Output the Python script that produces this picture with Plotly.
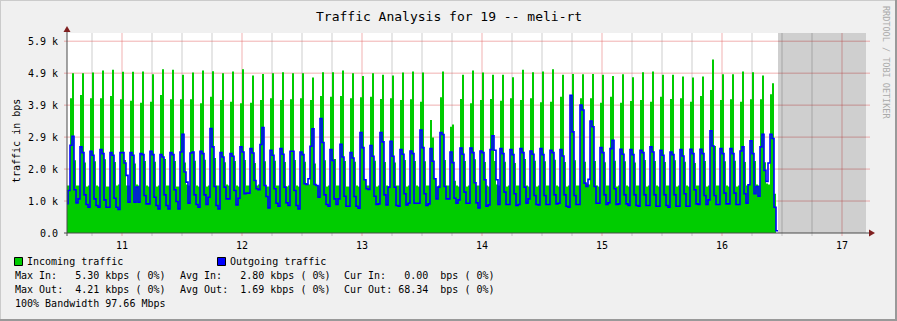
import plotly.graph_objects as go

# ---------------- data (bps), 24-minute samples ----------------
START_DAY = 10.0 + 12.8 / 24.0      # first sample starts day 10, 12:48
STEP_DAYS = 24.0 / 1440.0           # 24 minutes

in_head = [1453, 1453]
in_rise = [4114, 4217, 4114, 4114, 4186, 4083, 4042, 3981, 4012, 4217,
           4083, 4083, 4083, 3961, 4165, 4063, 4012, 3961, 3981, 4063,
           4114, 4063, 4083, 4114, 4063, 4186, 4165, 4186, 4114, 4145,
           4165, 4094, 4114, 4063, 4083, 4012, 3449, 4145, 3244, 4094,
           3961, 4063, 4094, 4042, 4114, 4063, 4114, 3991, 4012, 4165,
           4186, 4114, 4114, 3981, 4165, 3981, 4032, 4063, 4012, 4165,
           4094, 4114, 4012, 4186, 4370, 4063, 4083, 4012, 4083, 4083,
           4237]
in_peak = [4882, 4882, 4902, 4964, 4984, 4923, 4923, 4933, 4851, 5005,
           4984, 4831, 4902, 4964, 4943, 4882, 4933, 5005, 4810, 4861,
           4882, 4913, 4882, 4882, 4749, 4913, 4913, 4964, 4882, 4800,
           4882, 4831, 4810, 4902, 4933, 4902, 2916, 4933, 3316, 4831,
           4964, 4902, 4831, 4831, 4759, 4984, 4913, 4933, 5005, 4831,
           4861, 4851, 4861, 4831, 4800, 4851, 4759, 4913, 4933, 4831,
           4831, 4780, 4749, 4780, 5300, 4851, 4851, 4933, 4913, 4810,
           4575]
in_after = [2220, 2150, 2190, 2250, 2170, 2230, 2120, 2200, 2180, 2260,
            2200, 2150, 2210, 2240, 2290, 2160, 2200, 2230, 2140, 2190,
            2210, 2170, 2230, 2180, 2120, 2220, 2260, 2200, 2180, 1620,
            2210, 2170, 2150, 2230, 2200, 2190, 1660, 2230, 1600, 2200,
            2250, 2170, 2200, 2180, 2140, 2260, 2210, 2190, 2240, 2170,
            2220, 2180, 2200, 2160, 2210, 2190, 2150, 2230, 2200, 2170,
            2220, 2180, 2140, 2200, 2660, 2190, 2210, 2170, 2200, 2160,
            1197]
in_low1 = [1453, 1422, 1453, 1422, 1453, 1453, 1483, 1453, 1422, 1453,
           1422, 1483, 1453, 1422, 1453, 1483, 1453, 1453, 1453, 1422,
           1453, 1422, 1453, 1514, 1453, 1422, 1453, 1422, 1453, 1453,
           1422, 1453, 1453, 1422, 1453, 1453, 1422, 1453, 1453, 1422,
           1453, 1453, 1483, 1422, 1453, 1453, 1422, 1453, 1453, 1422,
           1453, 1514, 1453, 1453, 1422, 1453, 1453, 1422, 1453, 1453,
           1422, 1453, 1453, 1422, 1453, 1453, 1422, 1453, 1483, 1514]
in_low2 = [1453, 1453, 1422, 1422, 1483, 1453, 1453, 1422, 1453, 1453,
           1422, 1453, 1422, 1453, 1453, 1453, 1422, 1453, 1483, 1422,
           1453, 1453, 1422, 1483, 1453, 1453, 1453, 1422, 1422, 1453,
           1453, 1422, 1453, 1453, 1422, 1453, 1453, 1453, 1422, 1453,
           1453, 1422, 1453, 1453, 1453, 1422, 1453, 1453, 1422, 1453,
           1453, 1483, 1422, 1453, 1453, 1422, 1453, 1453, 1422, 1453,
           1453, 1422, 1453, 1453, 1453, 1422, 1453, 1483, 1453, 1483]
in_tail = [0]

out_head = [897, 1299]
out_peak1 = [2681, 2630, 2497, 2548, 2456, 2456, 2456, 2425, 2497, 2394,
             2456, 2476, 2445, 2497, 3193, 2456, 2425, 2630, 2579, 2702,
             2527, 2579, 2497, 2476, 2650, 3500, 2548, 2712, 2456, 3070,
             2671, 3070, 2804, 2548, 2507, 3142, 2579, 3070, 2476, 2599,
             2599, 2507, 2548, 2579, 2548, 2579, 2507, 2579, 2527, 2548,
             4210, 3909, 3418, 2609, 2579, 2558, 2548, 2527, 2630, 2527,
             2476, 2548, 2558, 2558, 3121, 2579, 2579, 2507, 2814, 2630,
             3019]
out_peak2 = [2957, 2456, 2374, 2425, 2374, 2456, 2374, 2394, 2394, 2323,
             2394, 3019, 2476, 2425, 2630, 2323, 2343, 2476, 2445, 3224,
             2374, 2405, 2497, 2394, 3183, 2763, 2220, 2323, 2292, 2609,
             2343, 2783, 2343, 2405, 2425, 2609, 2190, 3009, 2149, 2405,
             2456, 2456, 2968, 2425, 2394, 2456, 2405, 2394, 2456, 2353,
             3090, 3756, 3244, 2456, 2835, 2405, 2394, 2456, 2476, 2374,
             2394, 2353, 2425, 2425, 2660, 2425, 2425, 2630, 2425, 3019,
             2886]
out_drop = [1320, 1166, 1043, 1013, 1063, 2138, 941, 1145, 1094, 1166,
            1320, 1862, 1166, 1166, 1422, 1401, 1299, 1197, 1606, 1453,
            1350, 1401, 1299, 1504, 1483, 1166, 1043, 1125, 1115, 1627,
            1125, 1166, 1401, 1197, 910, 1197, 1657, 1422, 1063, 1248,
            1535, 1627, 2527, 1248, 1197, 1401, 1145, 1145, 1166, 1166,
            1145, 1524, 1422, 1166, 1350, 1166, 1166, 1166, 1166, 1166,
            1166, 1197, 1320, 1145, 1145, 1217, 1217, 1197, 1197, 1913,
            787]
out_low1 = [920, 869, 838, 787, 787, 1760, 1401, 890, 838, 838,
            961, 1555, 869, 869, 838, 1043, 859, 1217, 1350, 1115,
            910, 920, 838, 1483, 1453, 869, 869, 818, 818, 1350,
            869, 859, 838, 859, 910, 838, 1043, 1043, 910, 910,
            920, 818, 1627, 869, 838, 910, 869, 869, 890, 818,
            869, 1422, 910, 869, 869, 890, 838, 838, 818, 838,
            818, 818, 890, 869, 869, 890, 869, 910, 1422, 1575]
out_low2 = [1043, 787, 787, 787, 716, 941, 941, 890, 736, 736,
            736, 910, 787, 1094, 736, 1043, 1063, 1217, 1320, 767,
            818, 838, 736, 1657, 1094, 818, 1043, 818, 756, 1330,
            890, 1401, 818, 910, 910, 890, 1401, 1043, 1013, 910,
            767, 859, 869, 869, 869, 1043, 859, 869, 910, 787,
            869, 1637, 910, 920, 890, 838, 818, 838, 818, 787,
            818, 818, 869, 1013, 869, 890, 869, 1473, 1125, 2138]
out_tail = [68]

x_tick_vals = [11, 12, 13, 14, 15, 16, 17]
x_tick_text = ["11", "12", "13", "14", "15", "16", "17"]
x_minor_vals = [10.75, 11.25, 11.5, 11.75, 12.25, 12.5, 12.75, 13.25, 13.5, 13.75,
                14.25, 14.5, 14.75, 15.25, 15.5, 15.75, 16.25, 16.5, 16.75, 17.25]
y_tick_vals = [0, 976.5625, 1953.125, 2929.6875, 3906.25, 4882.8125, 5859.375]
y_tick_text = ["0.0", "1.0 k", "2.0 k", "2.9 k", "3.9 k", "4.9 k", "5.9 k"]

legend_rows = [
    ["Max In:   5.30 kbps ( 0%)", "Avg In:   2.80 kbps ( 0%)", "Cur In:   0.00  bps ( 0%)"],
    ["Max Out:  4.21 kbps ( 0%)", "Avg Out:  1.69 kbps ( 0%)", "Cur Out: 68.34  bps ( 0%)"],
]
bandwidth_text = "100% Bandwidth 97.66 Mbps"

# ---------------- assemble series ----------------
incoming = list(in_head)
outgoing = list(out_head)
for c in range(len(in_low1)):
    incoming += [in_rise[c], in_peak[c], in_after[c], in_low1[c], in_low2[c]]
    outgoing += [out_peak1[c], out_peak2[c], out_drop[c], out_low1[c], out_low2[c]]
last = len(in_low1)
incoming += [in_rise[last], in_peak[last], in_after[last]] + in_tail
outgoing += [out_peak1[last], out_peak2[last], out_drop[last]] + out_tail

n = len(incoming)
xs = [START_DAY + k * STEP_DAYS for k in range(n + 1)]
in_y = incoming + [incoming[-1]]
out_y = outgoing + [outgoing[-1]]
data_end = xs[-1]

X_MIN, X_MAX = 10.541667, 17.2
Y_MAX = 6110

# pixel geometry of the plot area
W, H = 897, 321
L, R, T, B = 67, 866, 33, 233
def px(x):
    return (x - L) / (R - L)
def py(y):
    return (B - y) / (B - T)

MONO = "DejaVu Sans Mono"

fig = go.Figure()
fig.add_trace(go.Scatter(x=xs, y=in_y, mode="lines", line=dict(shape="hv", width=0, color="#00cc00"),
                         fill="tozeroy", fillcolor="#00cc00", hoverinfo="skip", showlegend=False))
fig.add_trace(go.Scatter(x=xs, y=out_y, mode="lines", line=dict(shape="hv", width=1.6, color="#0000ff"),
                         hoverinfo="skip", showlegend=False))

shapes = []
# grid under the data
MINOR = "rgba(143,143,143,0.45)"
MAJOR = "rgba(222,80,80,0.45)"
for xv in x_minor_vals:
    if X_MIN < xv < X_MAX:
        shapes.append(dict(type="line", xref="x", yref="paper", x0=xv, x1=xv, y0=py(236), y1=1,
                           line=dict(color=MINOR, width=1), layer="below"))
for xv in x_tick_vals:
    shapes.append(dict(type="line", xref="x", yref="paper", x0=xv, x1=xv, y0=py(236), y1=1,
                       line=dict(color=MAJOR, width=1), layer="below"))
for yv in y_tick_vals[1:]:
    shapes.append(dict(type="line", xref="paper", yref="y", x0=px(64), x1=px(870), y0=yv, y1=yv,
                       line=dict(color=MAJOR, width=1), layer="below"))
# translucent future (no data) region
shapes.append(dict(type="rect", xref="x", yref="paper", x0=data_end, x1=X_MAX, y0=0, y1=1,
                   fillcolor="rgba(0,0,0,0.19)", line=dict(width=0), layer="above"))
# axes
AXIS = "#4a4a4a"
ARROW = "#7f1f1f"
shapes.append(dict(type="line", xref="paper", yref="paper", x0=px(64), x1=px(870), y0=py(233), y1=py(233),
                   line=dict(color=AXIS, width=1), layer="above"))
shapes.append(dict(type="line", xref="paper", yref="paper", x0=px(67), x1=px(67), y0=py(236), y1=py(30),
                   line=dict(color=AXIS, width=1), layer="above"))
shapes.append(dict(type="path", xref="paper", yref="paper",
                   path="M {} {} L {} {} L {} {} Z".format(px(869), py(229.5), px(875), py(233), px(869), py(236.5)),
                   fillcolor=ARROW, line=dict(width=0), layer="above"))
shapes.append(dict(type="path", xref="paper", yref="paper",
                   path="M {} {} L {} {} L {} {} Z".format(px(63.5), py(32), px(67), py(26), px(70.5), py(32)),
                   fillcolor=ARROW, line=dict(width=0), layer="above"))
# frame shading of the whole image
shapes.append(dict(type="line", xref="paper", yref="paper", x0=px(0), x1=px(W), y0=py(0.5), y1=py(0.5),
                   line=dict(color="#cbcbcb", width=1)))
shapes.append(dict(type="line", xref="paper", yref="paper", x0=px(0.5), x1=px(0.5), y0=py(0), y1=py(H),
                   line=dict(color="#cbcbcb", width=1)))
shapes.append(dict(type="line", xref="paper", yref="paper", x0=px(0), x1=px(W), y0=py(H - 1), y1=py(H - 1),
                   line=dict(color="#999999", width=2)))
shapes.append(dict(type="line", xref="paper", yref="paper", x0=px(W - 1), x1=px(W - 1), y0=py(0), y1=py(H),
                   line=dict(color="#999999", width=2)))
# legend swatches
shapes.append(dict(type="rect", xref="paper", yref="paper", x0=px(14.5), x1=px(22.5), y0=py(265.5), y1=py(257.5),
                   fillcolor="#00cc00", line=dict(color="#000000", width=1)))
shapes.append(dict(type="rect", xref="paper", yref="paper", x0=px(217.5), x1=px(225.5), y0=py(265.5), y1=py(257.5),
                   fillcolor="#0000ff", line=dict(color="#000000", width=1)))

ann = []
def text(x, y, s, size=10, xanchor="left", color="#000000", angle=0):
    ann.append(dict(xref="paper", yref="paper", x=px(x), y=py(y), text=s, showarrow=False,
                    xanchor=xanchor, yanchor="middle", textangle=angle, borderpad=0,
                    font=dict(family=MONO, size=size, color=color)))

text(449, 16, "Traffic Analysis for 19 -- meli-rt", size=13, xanchor="center")
text(16, 141, "traffic in bps", size=10, xanchor="center", angle=-90)
text(886, 62, "RRDTOOL / TOBI OETIKER", size=8.5, xanchor="center", color="#aaaaaa", angle=90)
text(26, 261.5, "Incoming traffic")
text(229, 261.5, "Outgoing traffic")
cols = [14, 179, 343]
for r, row in enumerate(legend_rows):
    for c, s in enumerate(row):
        text(cols[c], 275.5 + 14.2 * r, s.replace(" ", "&nbsp;"))
text(14, 303.5, bandwidth_text.replace(" ", "&nbsp;"))

fig.update_layout(
    width=W, height=H, autosize=False,
    margin=dict(l=L, r=W - R, t=T, b=H - B, pad=0),
    paper_bgcolor="#f0f0f0", plot_bgcolor="#ffffff",
    shapes=shapes, annotations=ann, showlegend=False,
    xaxis=dict(range=[X_MIN, X_MAX], showgrid=False, zeroline=False, showline=False,
               tickmode="array", tickvals=x_tick_vals, ticktext=x_tick_text, ticks="",
               ticklabelstandoff=5, tickfont=dict(family=MONO, size=10, color="#000000"), fixedrange=True),
    yaxis=dict(range=[0, Y_MAX], showgrid=False, zeroline=False, showline=False,
               tickmode="array", tickvals=y_tick_vals, ticktext=y_tick_text, ticks="",
               ticklabelstandoff=8, tickfont=dict(family=MONO, size=10, color="#000000"), fixedrange=True),
)

fig.write_html("out.html", config={"displayModeBar": False})
